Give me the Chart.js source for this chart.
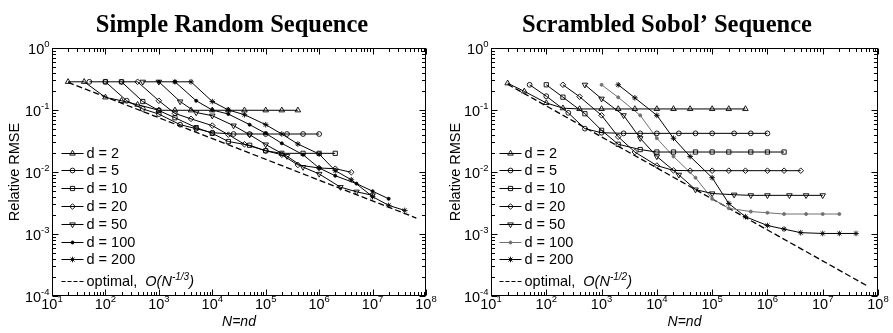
<!DOCTYPE html>
<html>
<head>
<meta charset="utf-8">
<script src="https://cdn.jsdelivr.net/npm/chart.js@4/dist/chart.umd.min.js"></script>
<style>
  html, body { margin: 0; padding: 0; background: #fff; }
  #wrap { position: relative; width: 893px; height: 333px; overflow: hidden; }
  .panel { position: absolute; top: 0; }
  #pa { left: 0; }
  #pb { left: 446px; }
</style>
</head>
<body>
<div id="wrap">
  <div class="panel" id="pa"><canvas id="ca" width="446" height="333"></canvas></div>
  <div class="panel" id="pb"><canvas id="cb" width="447" height="333"></canvas></div>
</div>
<script>
// ---- data -----------------------------------------------------------------
// sample size per dimension; each point is plotted at N = n*d
const sampleSizes = [10, 20, 50, 100, 200, 500, 1000, 2000, 5000, 10000, 20000, 50000, 100000, 200000];
const dims = [2, 5, 10, 20, 50, 100, 200];
const xTickExponents = [1, 2, 3, 4, 5, 6, 7, 8];
const yTickExponents = [0, -1, -2, -3, -4];

// relative RMSE, simple random sequence
const srsD2   = [0.285, 0.285, 0.16,  0.141, 0.122, 0.099, 0.099, 0.099, 0.099, 0.099, 0.099, 0.099, 0.099, 0.099];
const srsD5   = [0.285, 0.285, 0.141, 0.104, 0.086, 0.058, 0.05,  0.043, 0.041, 0.041, 0.041, 0.041, 0.041, 0.041];
const srsD10  = [0.285, 0.285, 0.137, 0.098, 0.075, 0.052, 0.042, 0.031, 0.027, 0.022, 0.02,  0.02,  0.02,  0.02];
const srsD20  = [0.285, 0.285, 0.141, 0.088, 0.072, 0.056, 0.04,  0.028, 0.022, 0.019, 0.013, 0.0116, 0.0113, 0.0099];
const srsD50  = [0.285, 0.285, 0.137, 0.091, 0.081, 0.056, 0.04,  0.0277, 0.018, 0.012, 0.0093, 0.0057, 0.0048, 0.0042];
const srsD100 = [0.285, 0.285, 0.141, 0.1,   0.086, 0.058, 0.042, 0.029, 0.019, 0.0116, 0.0087, 0.0065, 0.0049, 0.0037];
const srsD200 = [0.285, 0.285, 0.137, 0.1,   0.084, 0.058, 0.041, 0.0283, 0.0195, 0.0105, 0.0075, 0.004, 0.0029, 0.0024];

// relative RMSE, scrambled Sobol' sequence
const sobD2   = [0.27,  0.2,   0.13,  0.107, 0.104, 0.104, 0.104, 0.104, 0.104, 0.104, 0.104, 0.104, 0.104, 0.104];
const sobD5   = [0.255, 0.167, 0.09,  0.05,  0.043, 0.042, 0.042, 0.042, 0.042, 0.042, 0.042, 0.042, 0.042, 0.042];
const sobD10  = [0.255, 0.161, 0.087, 0.047, 0.028, 0.023, 0.021, 0.021, 0.021, 0.021, 0.021, 0.021, 0.021, 0.021];
const sobD20  = [0.255, 0.164, 0.082, 0.037, 0.021, 0.0127, 0.0106, 0.0105, 0.0105, 0.0105, 0.0105, 0.0105, 0.0105, 0.0105];
const sobD50  = [0.255, 0.152, 0.082, 0.035, 0.0178, 0.009, 0.0052, 0.0045, 0.0043, 0.0042, 0.0042, 0.0042, 0.0042, 0.0042];
const sobD100 = [0.255, 0.16,  0.082, 0.035, 0.0178, 0.0081, 0.0037, 0.0026, 0.0023, 0.0022, 0.0021, 0.0021, 0.0021, 0.0021];
const sobD200 = [0.255, 0.157, 0.082, 0.035, 0.0178, 0.0081, 0.0031, 0.0019, 0.00137, 0.0012, 0.00105, 0.00102, 0.00102, 0.00102];

// optimal convergence lines (end points)
const srsOptimalN = [20, 6.6e7];
const srsOptimal  = [0.279, 0.00181];
const sobOptimalN = [20, 6.8e7];
const sobOptimal  = [0.26, 1.41e-4];

// ---- styling ----------------------------------------------------------------
const SANS = '"Liberation Sans", Arial, Helvetica, sans-serif';
const SERIF = '"Liberation Serif", "Times New Roman", Times, serif';

const markers = [
  { pointStyle: 'triangle', radius: 3.2, rotation: 0,   filled: false },
  { pointStyle: 'circle',   radius: 2.4, rotation: 0,   filled: false },
  { pointStyle: 'rect',     radius: 3.0, rotation: 0,   filled: false },
  { pointStyle: 'rectRot',  radius: 2.8, rotation: 0,   filled: false },
  { pointStyle: 'triangle', radius: 3.2, rotation: 180, filled: false },
  { pointStyle: 'circle',   radius: 1.5, rotation: 0,   filled: true  },
  { pointStyle: 'star',     radius: 2.8, rotation: 0,   filled: false }
];

function buildDatasets(seriesList, optN, optV, colors) {
  const sets = seriesList.map((vals, k) => {
    const d = dims[k];
    const m = markers[k];
    const col = colors[k];
    return {
      label: 'd = ' + d,
      data: sampleSizes.map((n, i) => ({ x: n * d, y: vals[i] })),
      borderColor: col,
      borderWidth: 1,
      pointStyle: m.pointStyle,
      pointRadius: m.radius,
      pointRotation: m.rotation,
      pointBorderColor: col,
      pointBorderWidth: 0.9,
      pointBackgroundColor: m.filled ? col : 'rgba(0,0,0,0)',
      tension: 0,
      fill: false
    };
  });
  sets.push({
    label: 'optimal',
    data: optN.map((n, i) => ({ x: n, y: optV[i] })),
    borderColor: '#000',
    borderWidth: 1.3,
    borderDash: [6, 3],
    pointRadius: 0,
    tension: 0,
    fill: false
  });
  return sets;
}

function fontOf(p) {
  return (p.italic ? 'italic ' : '') + (p.bold ? 'bold ' : '') + p.size + 'px ' + (p.family || SANS);
}

// draws a run of text pieces (with optional raised superscripts)
function drawRich(ctx, parts, x, y, align) {
  let w = 0;
  parts.forEach(p => { ctx.font = fontOf(p); p.w = ctx.measureText(p.t).width; w += p.w; });
  let cx = align === 'center' ? x - w / 2 : (align === 'right' ? x - w : x);
  ctx.textAlign = 'left';
  ctx.textBaseline = 'alphabetic';
  parts.forEach(p => { ctx.font = fontOf(p); ctx.fillText(p.t, cx, y - (p.rise || 0)); cx += p.w; });
}

function powParts(e) {
  return [{ t: '10', size: 14.5 }, { t: String(e), size: 9.5, rise: 7 }];
}

// frame, inward ticks, tick labels, titles and legend
const panelDecor = {
  id: 'panelDecor',
  afterDraw(chart, args, o) {
    const ctx = chart.ctx;
    const a = chart.chartArea;
    const xs = chart.scales.x, ys = chart.scales.y;
    const L = Math.round(a.left) + 0.5, R = Math.round(a.right) - 0.5;
    const T = Math.round(a.top) + 0.5, B = Math.round(a.bottom) - 0.5;
    ctx.save();
    ctx.strokeStyle = '#000';
    ctx.fillStyle = '#000';
    ctx.lineWidth = 1;
    ctx.setLineDash([]);
    ctx.strokeRect(L, T, R - L, B - T);

    // inward ticks on all four sides (major at decades, minor at 2..9)
    ctx.beginPath();
    for (let e = xTickExponents[0]; e <= xTickExponents[xTickExponents.length - 1]; e++) {
      for (let m = 1; m <= 9; m++) {
        const v = m * Math.pow(10, e);
        if (v > xs.max) break;
        const px = Math.round(xs.getPixelForValue(v)) + 0.5;
        const len = m === 1 ? 6 : 3.5;
        ctx.moveTo(px, B); ctx.lineTo(px, B - len);
        ctx.moveTo(px, T); ctx.lineTo(px, T + len);
      }
    }
    for (let e = yTickExponents[yTickExponents.length - 1]; e <= yTickExponents[0]; e++) {
      for (let m = 1; m <= 9; m++) {
        const v = m * Math.pow(10, e);
        if (v > ys.max) break;
        const py = Math.round(ys.getPixelForValue(v)) + 0.5;
        const len = m === 1 ? 6 : 3.5;
        ctx.moveTo(L, py); ctx.lineTo(L + len, py);
        ctx.moveTo(R, py); ctx.lineTo(R - len, py);
      }
    }
    ctx.stroke();

    // tick labels
    xTickExponents.forEach(e => {
      const px = xs.getPixelForValue(Math.pow(10, e));
      drawRich(ctx, powParts(e), px, B + 13.5, 'center');
    });
    yTickExponents.forEach(e => {
      const py = ys.getPixelForValue(Math.pow(10, e));
      drawRich(ctx, powParts(e), L - 3, py + 6, 'right');
    });

    // axis titles
    drawRich(ctx, [{ t: 'N=nd', size: 14, italic: true }], (L + R) / 2, B + 30, 'center');
    ctx.save();
    ctx.translate(o.yTitleX, (T + B) / 2);
    ctx.rotate(-Math.PI / 2);
    drawRich(ctx, [{ t: 'Relative RMSE', size: 14.5 }], 0, 0, 'center');
    ctx.restore();

    // panel title
    drawRich(ctx, [{ t: o.title, size: 24.5, bold: true, family: SERIF }], o.titleX, 32, 'center');

    // legend
    const sets = chart.data.datasets;
    const segL = L + o.legendDx, segR = segL + 22, textX = segR + 3;
    const step = 17.8;
    const optY = B - 14.5;
    const firstY = optY - 21.6 - step * (sets.length - 2);
    sets.forEach((ds, i) => {
      const isOpt = i === sets.length - 1;
      const y = isOpt ? optY : firstY + step * i;
      ctx.beginPath();
      ctx.strokeStyle = ds.borderColor;
      ctx.lineWidth = isOpt ? 1.1 : 1;
      ctx.setLineDash(isOpt ? [4, 2] : []);
      ctx.moveTo(segL, Math.round(y) + 0.5);
      ctx.lineTo(segR, Math.round(y) + 0.5);
      ctx.stroke();
      ctx.setLineDash([]);
      if (!isOpt) {
        ctx.strokeStyle = ds.pointBorderColor;
        ctx.fillStyle = ds.pointBackgroundColor;
        ctx.lineWidth = ds.pointBorderWidth;
        Chart.helpers.drawPoint(ctx, {
          pointStyle: ds.pointStyle, rotation: ds.pointRotation,
          radius: ds.pointRadius, borderWidth: ds.pointBorderWidth
        }, (segL + segR) / 2, Math.round(y) + 0.5);
      }
      ctx.fillStyle = '#000';
      if (isOpt) {
        drawRich(ctx, [
          { t: 'optimal,  ', size: 14.5 },
          { t: 'O(N', size: 14.5, italic: true },
          { t: o.optExp, size: 10, italic: true, rise: 6.5 },
          { t: ')', size: 14.5, italic: true }
        ], textX, y + 5, 'left');
      } else {
        drawRich(ctx, [{ t: ds.label, size: 14.5 }], textX, y + 5, 'left');
      }
    });
    ctx.restore();
  }
};

function makePanel(canvasId, datasets, pad, decor) {
  return new Chart(document.getElementById(canvasId), {
    type: 'line',
    data: { datasets },
    options: {
      responsive: false,
      animation: false,
      devicePixelRatio: 1,
      layout: { padding: pad },
      scales: {
        x: { type: 'logarithmic', min: 10, max: 1e8, display: false },
        y: { type: 'logarithmic', min: 1e-4, max: 1, display: false }
      },
      plugins: {
        legend: { display: false },
        tooltip: { enabled: false },
        panelDecor: decor
      }
    },
    plugins: [panelDecor]
  });
}

const blackAll = dims.map(() => '#000');
const sobColors = dims.map(d => d === 100 ? '#707070' : '#000');

makePanel('ca',
  buildDatasets([srsD2, srsD5, srsD10, srsD20, srsD50, srsD100, srsD200], srsOptimalN, srsOptimal, blackAll),
  { left: 52, right: 20, top: 48, bottom: 37 },
  { title: 'Simple Random Sequence', titleX: 232, yTitleX: 19, legendDx: 9, optExp: '-1/3' });

makePanel('cb',
  buildDatasets([sobD2, sobD5, sobD10, sobD20, sobD50, sobD100, sobD200], sobOptimalN, sobOptimal, sobColors),
  { left: 45, right: 15, top: 48, bottom: 37 },
  { title: 'Scrambled Sobol\u2019 Sequence', titleX: 221, yTitleX: 14, legendDx: 8, optExp: '-1/2' });
</script>
</body>
</html>
